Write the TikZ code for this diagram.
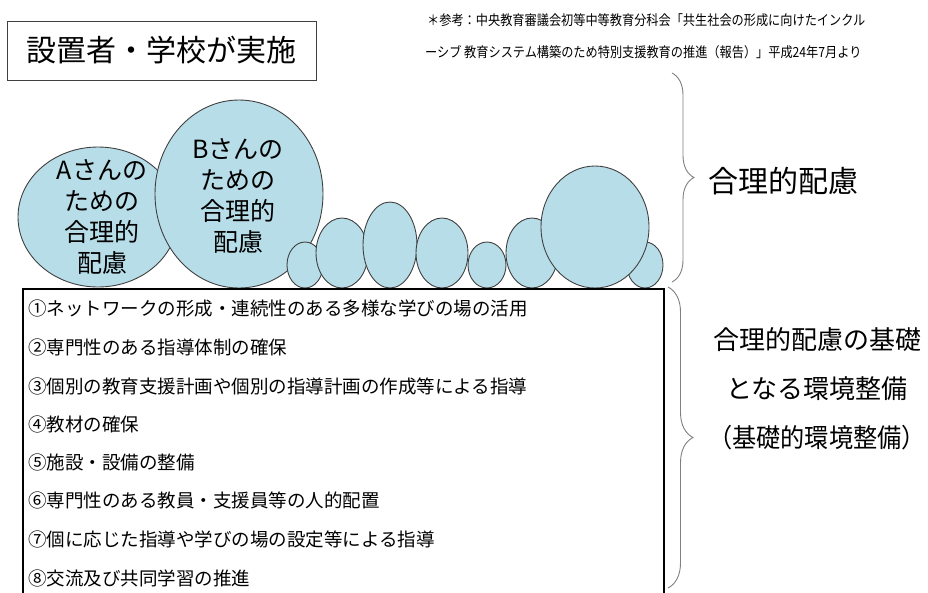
\documentclass[tikz,border=0pt]{standalone}
\usepackage{fontspec}
\setmainfont{Noto Sans CJK JP}
\usetikzlibrary{decorations.pathreplacing,shapes.geometric}
\definecolor{bub}{HTML}{B7DDE8}
\definecolor{edgegray}{HTML}{404040}
\definecolor{bracegray}{HTML}{808080}
\begin{document}
\begin{tikzpicture}[x=1pt,y=-1pt,
  bubble/.style={ellipse, draw=edgegray, fill=bub, line width=0.9pt, inner sep=0pt},
  bubtext/.style={align=center, font=\fontsize{25}{31}\selectfont, inner sep=0pt},
  item/.style={anchor=west, inner sep=0pt, font=\fontsize{18.5}{20}\selectfont},
  bracedeco/.style={draw=bracegray, line width=0.9pt, decorate}
]
\useasboundingbox (0,0) rectangle (928,592);

% title
\node[draw=edgegray, line width=1pt, minimum width=309pt, minimum height=59pt,
      font=\fontsize{30}{32}\selectfont] (title) at (161.5,50.5) {設置者・学校が実施};

% note
\node[anchor=west, inner sep=0pt] (note1) at (427,20)
  {\scalebox{0.87}[1]{\fontsize{14}{16}\selectfont ＊参考：中央教育審議会初等中等教育分科会「共生社会の形成に向けたインクル}};
\node[anchor=west, inner sep=0pt] (note2) at (425,52)
  {\scalebox{0.87}[1]{\fontsize{14}{16}\selectfont ーシブ 教育システム構築のため特別支援教育の推進（報告）」平成24年7月より}};

% bubbles
\node[bubble, minimum width=160pt, minimum height=140pt] (a) at (98,217) {};
\node[bubble, minimum width=168pt, minimum height=188pt] (b) at (239,194) {};
\node[bubtext] (atext) at (102,217) {Aさんの\\ための\\合理的\\配慮};
\node[bubtext] (btext) at (238,196) {Bさんの\\ための\\合理的\\配慮};
\node[bubble, minimum width=36pt, minimum height=46pt] (s1) at (305,265) {};
\node[bubble, minimum width=52pt, minimum height=70pt] (s2) at (342,253) {};
\node[bubble, minimum width=54pt, minimum height=86pt] (s3) at (390,245) {};
\node[bubble, minimum width=52pt, minimum height=70pt] (s4) at (442,253) {};
\node[bubble, minimum width=38pt, minimum height=46pt] (s5) at (487,265) {};
\node[bubble, minimum width=52pt, minimum height=70pt] (s6) at (532,253) {};
\node[bubble, minimum width=36pt, minimum height=46pt] (s8) at (645,265) {};
\node[bubble, minimum width=108pt, minimum height=122pt] (s7) at (595,227) {};

% main box
\node[draw=black, line width=1.6pt, minimum width=641pt, minimum height=312pt,
      anchor=north west, inner sep=0pt] (box) at (22,288) {};
\node[item] (i1) at (28,308) {①ネットワークの形成・連続性のある多様な学びの場の活用};
\node[item] (i2) at (28,347) {②専門性のある指導体制の確保};
\node[item] (i3) at (28,386) {③個別の教育支援計画や個別の指導計画の作成等による指導};
\node[item] (i4) at (28,424) {④教材の確保};
\node[item] (i5) at (28,462) {⑤施設・設備の整備};
\node[item] (i6) at (28,500) {⑥専門性のある教員・支援員等の人的配置};
\node[item] (i7) at (28,539) {⑦個に応じた指導や学びの場の設定等による指導};
\node[item] (i8) at (28,578) {⑧交流及び共同学習の推進};

% braces
\coordinate (b1t) at (672,73);
\coordinate (b1b) at (672,282);
\coordinate (b2t) at (668,287);
\coordinate (b2b) at (668,588);
\draw[bracedeco, decoration={brace, amplitude=22pt}] (b1t) -- (b1b);
\draw[bracedeco, decoration={brace, amplitude=25pt}] (b2t) -- (b2b);

\node[anchor=west, inner sep=0pt, font=\fontsize{30}{32}\selectfont] (r1) at (708,181) {合理的配慮};
\node[align=center, inner sep=0pt, font=\fontsize{26}{49}\selectfont] (r2) at (817,389)
  {合理的配慮の基礎\\となる環境整備\\\scalebox{0.93}[1]{（基礎的環境整備）}};
\end{tikzpicture}
\end{document}
